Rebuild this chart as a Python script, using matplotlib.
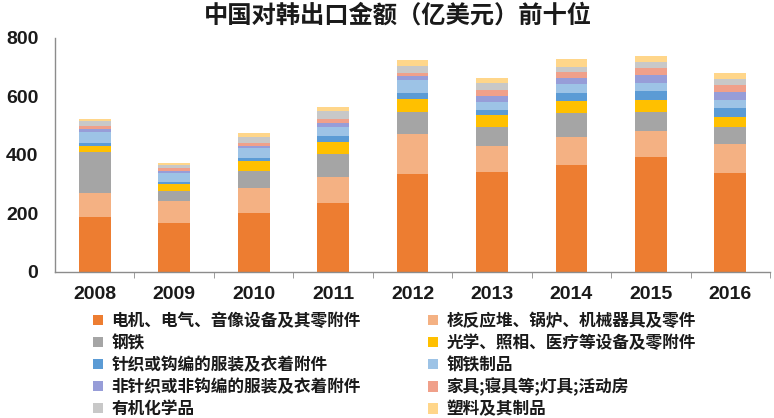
import numpy as np
import matplotlib
matplotlib.use('Agg')
import matplotlib.pyplot as plt
from matplotlib.ticker import MultipleLocator, FixedLocator
from matplotlib.patches import Patch

plt.rcParams['font.family'] = ['Noto Sans CJK SC', 'DejaVu Sans']

years = ['2008', '2009', '2010', '2011', '2012', '2013', '2014', '2015', '2016']

names = ['电机、电气、音像设备及其零附件', '核反应堆、锅炉、机械器具及零件',
         '钢铁', '光学、照相、医疗等设备及零附件',
         '针织或钩编的服装及衣着附件', '钢铁制品',
         '非针织或非钩编的服装及衣着附件', '家具;寝具等;灯具;活动房',
         '有机化学品', '塑料及其制品']

# 亿美元, 每年从下往上
dianji   = [189, 169, 203, 237, 335, 343, 366, 392, 340]
hefanying = [82, 73, 85, 87, 137, 88, 97, 90, 98]
gangtie  = [138, 36, 58, 79, 74, 64, 79, 66, 59]
guangxue = [22, 23, 35, 43, 44, 42, 43, 40, 34]
zhenzhi  = [11, 8, 8, 19, 23, 17, 26, 32, 29]
gangtiezp = [38, 28, 34, 32, 43, 28, 31, 27, 28]
feizhenzhi = [8, 9, 8, 14, 14, 18, 20, 26, 28]
jiaju    = [11, 8, 11, 12, 11, 22, 21, 23, 23]
youji    = [16, 12, 21, 29, 23, 23, 19, 23, 20]
suliao   = [8, 6, 13, 13, 21, 17, 25, 21, 20]

series = [dianji, hefanying, gangtie, guangxue, zhenzhi, gangtiezp,
          feizhenzhi, jiaju, youji, suliao]
colors = ['#ED7D31', '#F4B183', '#A5A5A5', '#FFC000', '#5B9BD5', '#9DC3E6',
          '#979DD8', '#F0A08A', '#C8C8C8', '#FFD68A']

fig = plt.figure(figsize=(7.74, 4.18), dpi=100)
ax = fig.add_axes([55/774, 1-272/418, (770-55)/774, (272-38)/418])

x = np.arange(len(years))
bottom = np.zeros(len(years))
for vals, c in zip(series, colors):
    ax.bar(x, vals, width=0.4, bottom=bottom, color=c, linewidth=0)
    bottom += np.array(vals)

ax.set_xlim(-0.5, len(years)-0.5)
ax.set_ylim(0, 800)
ax.yaxis.set_major_locator(MultipleLocator(200))
ax.set_xticks(x)
ax.set_xticklabels(years)
ax.xaxis.set_minor_locator(FixedLocator(np.arange(0.5, len(years), 1)))

for s in ['top', 'right']:
    ax.spines[s].set_visible(False)
for s in ['left', 'bottom']:
    ax.spines[s].set_color('#8c8c8c')
    ax.spines[s].set_linewidth(1)

numfam = ['Liberation Sans Narrow', 'Liberation Sans']
ax.tick_params(axis='x', which='major', length=0, pad=10)
ax.tick_params(axis='x', which='minor', length=4, color='#8c8c8c', direction='out')
ax.tick_params(axis='y', length=0, pad=12)
for lab in ax.get_xticklabels() + ax.get_yticklabels():
    lab.set_fontfamily(numfam)
    lab.set_fontweight('bold')
    lab.set_fontsize(14)
    lab.set_color('#1a1a1a')

fig.text(398/774, 1-16/418, '中国对韩出口金额（亿美元）前十位', ha='center', va='center',
         fontsize=17.5, fontweight='bold', color='#1a1a1a')

handles = [Patch(facecolor=c, edgecolor='none') for c in colors]
left_h = handles[0::2]
right_h = handles[1::2]
kw = dict(frameon=False, fontsize=12, handlelength=0.6, handleheight=0.6,
          handletextpad=0.5, labelspacing=0.24, borderpad=0, borderaxespad=0)
leg1 = fig.legend(left_h, names[0::2], loc='upper left',
                  bbox_to_anchor=(93/774, 1-312/418), **kw)
leg2 = fig.legend(right_h, names[1::2], loc='upper left',
                  bbox_to_anchor=(428/774, 1-312/418), **kw)
for leg in (leg1, leg2):
    for t in leg.get_texts():
        t.set_fontweight('bold')
        t.set_color('#1a1a1a')

fig.savefig('out.png', dpi=100)
